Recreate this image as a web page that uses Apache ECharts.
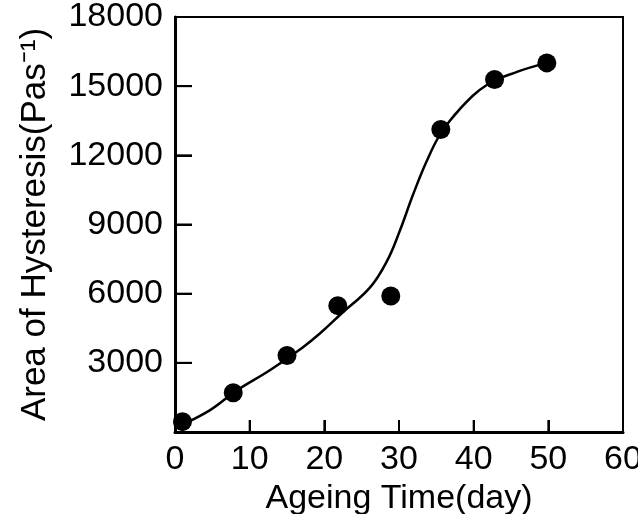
<!DOCTYPE html>
<html>
<head>
<meta charset="utf-8">
<script src="https://cdn.jsdelivr.net/npm/echarts@6/dist/echarts.min.js"></script>
<style>
  html, body { margin: 0; padding: 0; background: #fff; }
  #chart { width: 638px; height: 514px; }
</style>
</head>
<body>
<div id="chart"></div>
<script>
  // measured points (day, area)
  var pointDays = [1, 7.8, 15, 21.8, 28.9, 35.6, 42.8, 49.8];
  var pointArea = [450, 1700, 3320, 5480, 5900, 13120, 15290, 16010];

  // fitted curve
  var curveDays = [0.5, 4.7, 8.3, 12.7, 17.1, 19.4, 22.3, 26.1, 28.4, 30.1, 31.9, 33.7, 35.5, 38.2, 41.8, 45.8, 49.8];
  var curveArea = [250, 950, 1810, 2680, 3670, 4270, 5140, 6260, 7420, 8720, 10310, 11740, 12900, 14030, 15060, 15620, 16010];

  var xTicks = [0, 10, 20, 30, 40, 50, 60];
  var yTicks = [0, 3000, 6000, 9000, 12000, 15000, 18000];

  function pairs(xs, ys) {
    return xs.map(function (x, i) { return [x, ys[i]]; });
  }

  var font = 'Liberation Sans';
  var myChart = echarts.init(document.getElementById('chart'));
  myChart.setOption({
    animation: false,
    grid: {
      left: 175, right: 15, top: 17, bottom: 82,
      outerBoundsMode: 'none',
      containLabel: false,
      show: true, borderColor: '#000', borderWidth: 2
    },
    xAxis: {
      type: 'value',
      min: xTicks[0], max: xTicks[xTicks.length - 1], interval: 10,
      name: 'Ageing Time(day)',
      nameLocation: 'middle',
      nameGap: 50,
      nameTextStyle: { color: '#000', fontSize: 34, fontFamily: font },
      axisLine: { show: true, lineStyle: { color: '#000', width: 3 } },
      axisTick: { show: true, inside: true, length: 12, lineStyle: { color: '#000', width: 2 } },
      axisLabel: { color: '#000', fontSize: 34, fontFamily: font, margin: 11 },
      splitLine: { show: false }
    },
    yAxis: {
      type: 'value',
      min: yTicks[0], max: yTicks[yTicks.length - 1], interval: 3000,
      name: 'Area of Hysteresis(Pas⁻¹)',
      nameLocation: 'middle',
      nameGap: 122,
      nameTextStyle: { color: '#000', fontSize: 35, fontFamily: font },
      axisLine: { show: true, lineStyle: { color: '#000', width: 3 } },
      axisTick: { show: true, inside: true, length: 17, lineStyle: { color: '#000', width: 2 } },
      axisLabel: {
        color: '#000', fontSize: 34, fontFamily: font, margin: 12,
        formatter: function (v) { return v === 0 ? '' : String(v); }
      },
      splitLine: { show: false }
    },
    series: [
      {
        type: 'line',
        data: pairs(curveDays, curveArea),
        smooth: 0.4,
        showSymbol: false,
        lineStyle: { color: '#000', width: 2.5 }
      },
      {
        type: 'scatter',
        data: pairs(pointDays, pointArea),
        symbolSize: 19,
        itemStyle: { color: '#000', opacity: 1 }
      }
    ]
  });

  // inner ticks, placed through the chart's own scales
  var tickMarks = [];
  xTicks.slice(1, -1).forEach(function (v) {
    var p = myChart.convertToPixel({ gridIndex: 0 }, [v, 0]);
    tickMarks.push({ type: 'line', shape: { x1: p[0], y1: p[1], x2: p[0], y2: p[1] - 12 },
      style: { stroke: '#000', lineWidth: 2 }, z: 10 });
  });
  yTicks.slice(1, -1).forEach(function (v) {
    var p = myChart.convertToPixel({ gridIndex: 0 }, [0, v]);
    tickMarks.push({ type: 'line', shape: { x1: p[0], y1: p[1], x2: p[0] + 17, y2: p[1] },
      style: { stroke: '#000', lineWidth: 2 }, z: 10 });
  });
  myChart.setOption({ graphic: tickMarks });
</script>
</body>
</html>
